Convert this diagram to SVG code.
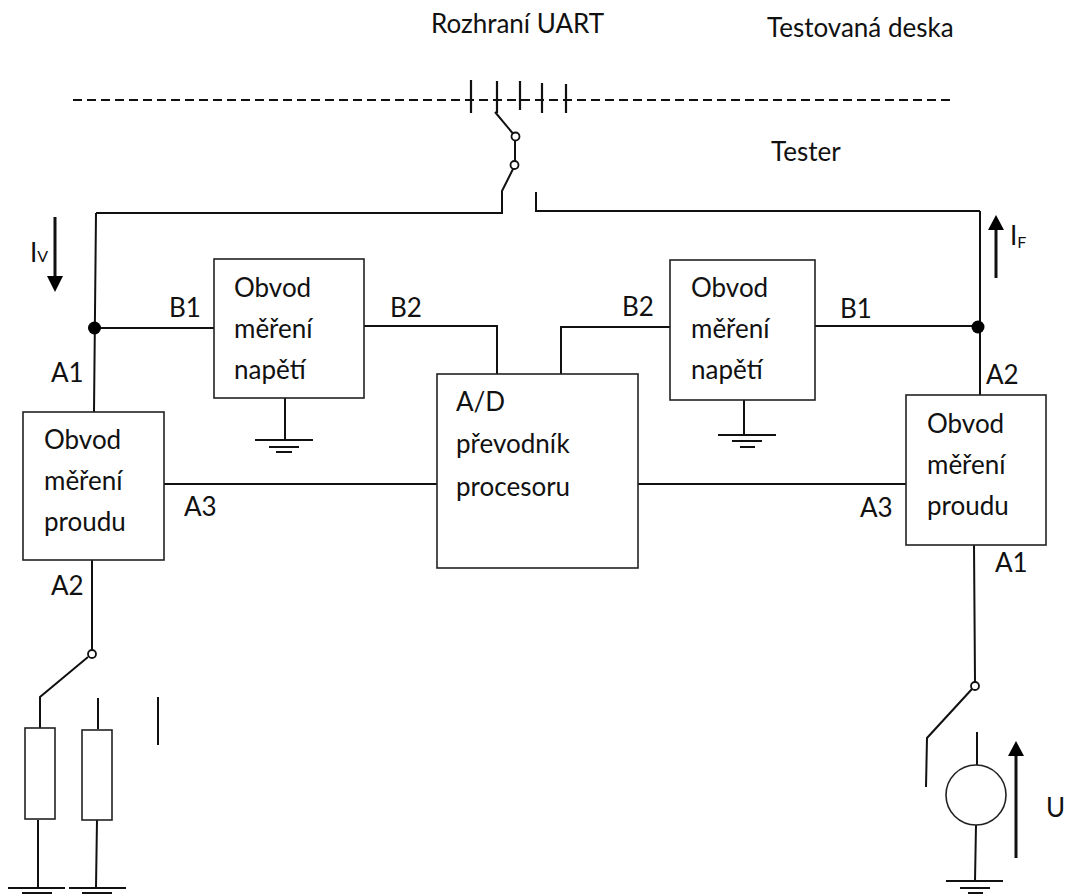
<svg xmlns="http://www.w3.org/2000/svg" width="1066" height="894" viewBox="0 0 1066 894">
<style>
text{font-family:"Lato","Open Sans","Liberation Sans",sans-serif;font-size:26px;fill:#111}
.s{font-size:16px}
.b{fill:#fff;stroke:#222;stroke-width:1.6}
.c{fill:#fff;stroke:#111;stroke-width:1.8}
path,line{fill:none;stroke:#111;stroke-width:2}
.h{fill:#000;stroke:none}
.t{stroke-width:2.2}
</style>
<rect width="1066" height="894" fill="#fff"/>
<g id="connectors">
<line x1="73" y1="100" x2="950" y2="100" stroke-dasharray="9 5" stroke-width="1.5"/>
<path class="t" d="M471 80V113M497 81V113M520 81V110M542 83V113M566 84V113"/>
<path d="M495 112L515 136V165L502 191V214"/>
<path d="M96 213H502M536 192V211H980"/>
<path d="M96 213L94 412M94 328H214M364 326H497V374M561 374V327H670M815 326H978M980 211V395"/>
<path d="M164 484H437M638 484H906M285 398V440M744 400V435"/>
<path d="M92 560V650M88 657L40 697V728M98 698V729M38 820V888M97 820L96 887M158 697V745"/>
<path d="M974 545L975 682M972 689L927 738L926 787M977 732V765M976 825L975 881"/>
<path d="M255 440H313M269 447H299M276 452H292M718 435H776M732 441H762M740 447H755"/>
<path d="M8 888H65M69 888H126M22 893H52M82 893H112M946 881H1003M960 888H990M968 893H983"/>
<path d="M55 217V278M996 278V228M1016 858V755" style="stroke-width:3"/>
<polygon class="h" points="47,276 63,276 55,292"/>
<polygon class="h" points="988,230 1004,230 996,215"/>
<polygon class="h" points="1008,756 1024,756 1016,741"/>
<circle class="h" cx="94.500" cy="328" r="6.500"/>
<circle class="h" cx="978" cy="327" r="6.500"/>
<circle class="c" cx="515.500" cy="136.500" r="4"/>
<circle class="c" cx="514.500" cy="165" r="4"/>
<circle class="c" cx="92" cy="654" r="4"/>
<circle class="c" cx="975" cy="686" r="4"/>
</g>
<g id="volt-left"><rect class="b" x="214" y="259" width="150" height="139"/><text x="234" y="297">Obvod</text><text x="234" y="338">měření</text><text x="234" y="379">napětí</text></g>
<g id="volt-right"><rect class="b" x="670" y="260" width="145" height="140"/><text x="691" y="297">Obvod</text><text x="691" y="338">měření</text><text x="691" y="379">napětí</text></g>
<g id="adc"><rect class="b" x="437" y="374" width="201" height="194"/><text x="456" y="411">A/D</text><text x="456" y="453">převodník</text><text x="456" y="496">procesoru</text></g>
<g id="cur-left"><rect class="b" x="23" y="412" width="141" height="148"/><text x="44" y="449">Obvod</text><text x="44" y="490">měření</text><text x="44" y="531">proudu</text></g>
<g id="cur-right"><rect class="b" x="906" y="395" width="140" height="150"/><text x="927" y="433">Obvod</text><text x="927" y="474">měření</text><text x="927" y="515">proudu</text></g>
<g id="res1"><rect class="b" x="25" y="728" width="30" height="91"/></g>
<g id="res2"><rect class="b" x="82" y="730" width="30" height="90"/></g>
<g id="source"><circle class="b" cx="976" cy="795" r="30"/></g>
<g id="labels">
<text x="431" y="33">Rozhraní UART</text>
<text x="767" y="37">Testovaná deska</text>
<text x="771" y="161">Tester</text>
<text x="30" y="262">I<tspan class="s" dy="0">V</tspan></text>
<text x="1010" y="245">I<tspan class="s" dy="3">F</tspan></text>
<text x="169" y="317">B1</text><text x="390" y="317">B2</text><text x="622" y="316">B2</text><text x="840" y="318">B1</text>
<text x="51" y="382">A1</text><text x="986" y="384">A2</text>
<text x="184" y="516">A3</text><text x="860" y="517">A3</text>
<text x="51" y="595">A2</text><text x="995" y="572">A1</text>
<text x="1046" y="817">U</text>
</g>
</svg>
